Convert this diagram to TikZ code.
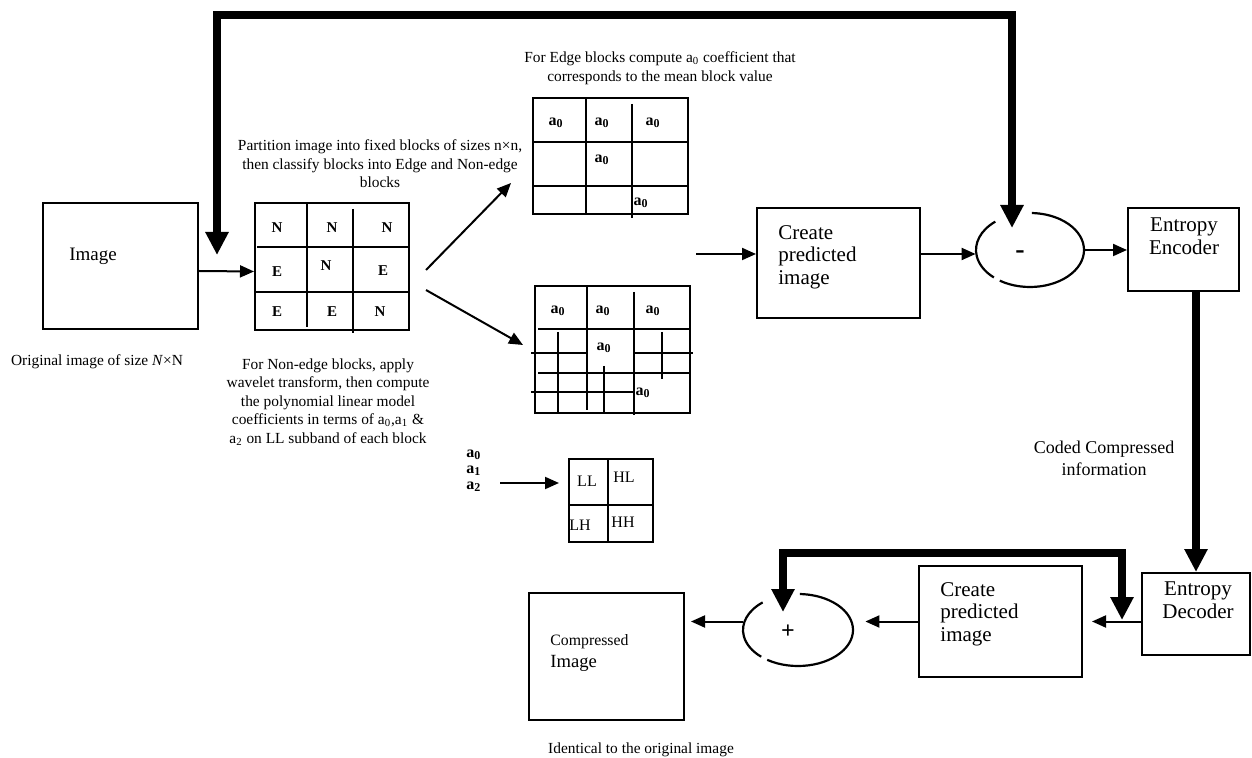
\documentclass[tikz,border=0pt]{standalone}
\usepackage{fontspec}
\setmainfont{Liberation Serif}
\usetikzlibrary{arrows.meta,calc,shapes.geometric}
\newcommand{\mysmall}{\fontsize{7.7}{9.25}\selectfont}
\newcommand{\mybig}{\fontsize{10.5}{11.25}\selectfont}
\newcommand{\mymid}{\fontsize{9}{11}\selectfont}
\begin{document}
\begin{tikzpicture}[x=0.5pt,y=-0.5pt,
  box/.style={draw,line width=1pt,inner sep=0pt},
  arr/.style={line width=1pt,-{Triangle[length=7pt,width=6pt]}},
  thk/.style={line width=3.6pt,line join=miter,{Triangle[length=11.5pt,width=11pt]}-{Triangle[length=11.5pt,width=11pt]}},
  gl/.style={line width=1pt},
  ell/.style={line width=1.1pt},
  captxt/.style={font=\mysmall,align=center,inner sep=0pt},
  lbl/.style={font=\fontsize{7.5}{9}\selectfont\bfseries,inner sep=0pt},
  bigtxt/.style={font=\mybig,inner sep=0pt}]
\useasboundingbox (0,0) rectangle (1252,758);

% ---------- boxes ----------
\node[box,minimum width=77.5pt,minimum height=63pt] (img) at (120.5,266) {};
\node[bigtxt,font=\fontsize{9.5}{11}\selectfont] (imgt) at (93,256) {Image};
\node[captxt] (orig) at (97,362) {Original image of size \textit{N}×N};

\node[box,minimum width=77pt,minimum height=63.5pt] (grid1) at (332,266.5) {};
\node[box,minimum width=77.5pt,minimum height=58pt] (grid2) at (610.5,156) {};
\node[box,minimum width=77.5pt,minimum height=63.5pt] (grid3) at (612.5,349.5) {};
\node[box,minimum width=81.5pt,minimum height=55pt] (pred1) at (838.5,263) {};
\node[box,minimum width=55.5pt,minimum height=41.5pt] (enc) at (1183.5,249.5) {};
\node[box,minimum width=54pt,minimum height=41pt] (dec) at (1196,614) {};
\node[box,minimum width=81.5pt,minimum height=55.5pt] (pred2) at (1000.5,621.5) {};
\node[box,minimum width=77.5pt,minimum height=63.5pt] (comp) at (606.5,656.5) {};
\node[box,minimum width=42pt,minimum height=41.5pt] (llg) at (611,500.5) {};

% ellipses (invisible nodes + gapped arcs)
\node[ellipse,minimum width=54pt,minimum height=37pt,inner sep=0pt] (sub) at (1030,250) {};
\node[ellipse,minimum width=55pt,minimum height=36pt,inner sep=0pt] (add) at (798,630) {};
\draw[ell] ($(sub)+(130:27pt and 18.5pt)$) arc[start angle=130,end angle=228,x radius=27pt,y radius=18.5pt];
\draw[ell] ($(sub)+(236:27pt and 18.5pt)$) arc[start angle=236,end angle=448,x radius=27pt,y radius=18.5pt];
\draw[ell] ($(add)+(130:27.5pt and 18pt)$) arc[start angle=130,end angle=228,x radius=27.5pt,y radius=18pt];
\draw[ell] ($(add)+(236:27.5pt and 18pt)$) arc[start angle=236,end angle=448,x radius=27.5pt,y radius=18pt];
\node[inner sep=0pt,font=\fontsize{14}{14}\selectfont\bfseries] (minus) at (1020,255) {-};
\node[inner sep=0pt,font=\fontsize{12}{12}\selectfont\bfseries] (plus) at (788,632) {+};

% ---------- grid 1 ----------
\draw[gl] (307,203) -- (307,327);
\draw[gl] (353,209) -- (353,333);
\draw[gl] (257,247) -- (409,247);
\draw[gl] (255,292) -- (409,292);
\node[lbl] (n1) at (277,228) {N};
\node[lbl] (n2) at (332,228) {N};
\node[lbl] (n3) at (387,228) {N};
\node[lbl] (e1) at (277,272) {E};
\node[lbl] (n4) at (326,266) {N};
\node[lbl] (e2) at (383,271) {E};
\node[lbl] (e3) at (277,312) {E};
\node[lbl] (e4) at (332,312) {E};
\node[lbl] (n5) at (380,312) {N};
\node[captxt] (part) at (380,164) {Partition image into fixed blocks of sizes n×n,\\then classify blocks into Edge and Non-edge\\blocks};

% ---------- grid 2 (edge) ----------
\draw[gl] (586,98) -- (586,214);
\draw[gl] (632,104) -- (632,218);
\draw[gl] (533,142) -- (688,142);
\draw[gl] (533,186) -- (688,186);
\node[lbl,font=\fontsize{8}{9}\selectfont\bfseries] (g2a) at (556,123) {a\textsubscript{0}};
\node[lbl,font=\fontsize{8}{9}\selectfont\bfseries] (g2b) at (602,123) {a\textsubscript{0}};
\node[lbl,font=\fontsize{8}{9}\selectfont\bfseries] (g2c) at (653,123) {a\textsubscript{0}};
\node[lbl,font=\fontsize{8}{9}\selectfont\bfseries] (g2d) at (602,160) {a\textsubscript{0}};
\node[lbl,font=\fontsize{8}{9}\selectfont\bfseries] (g2e) at (641,203) {a\textsubscript{0}};
\node[captxt] (edgecap) at (660,68) {For Edge blocks compute a\textsubscript{0} coefficient that\\corresponds to the mean block value};

% ---------- grid 3 (non-edge) ----------
\draw[gl] (587,286) -- (587,410);
\draw[gl] (634,292) -- (634,415);
\draw[gl] (538,329) -- (690,329);
\draw[gl] (538,373) -- (690,373);
\draw[gl] (531,353) -- (587,353);
\draw[gl] (635,353) -- (693,353);
\draw[gl] (531,392) -- (634,392);
\draw[gl] (558,332) -- (558,413);
\draw[gl] (604,366) -- (604,413);
\draw[gl] (662,332) -- (662,379);
\node[lbl,font=\fontsize{8}{9}\selectfont\bfseries] (g3a) at (558,311) {a\textsubscript{0}};
\node[lbl,font=\fontsize{8}{9}\selectfont\bfseries] (g3b) at (603,311) {a\textsubscript{0}};
\node[lbl,font=\fontsize{8}{9}\selectfont\bfseries] (g3c) at (653,311) {a\textsubscript{0}};
\node[lbl,font=\fontsize{8}{9}\selectfont\bfseries] (g3d) at (604,348) {a\textsubscript{0}};
\node[lbl,font=\fontsize{8}{9}\selectfont\bfseries] (g3e) at (643,393) {a\textsubscript{0}};
\node[captxt] (noncap) at (328,402) {For Non-edge blocks, apply\\wavelet transform, then compute\\the polynomial linear model\\coefficients in terms of a\textsubscript{0},a\textsubscript{1} \&\\a\textsubscript{2} on LL subband of each block};

% ---------- LL grid ----------
\draw[gl] (608,459) -- (608,542);
\draw[gl] (569,505) -- (653,505);
\node[inner sep=0pt,font=\fontsize{8}{9}\selectfont] (ll) at (587,481) {LL};
\node[inner sep=0pt,font=\fontsize{8}{9}\selectfont] (hl) at (624,477) {HL};
\node[inner sep=0pt,font=\fontsize{8}{9}\selectfont] (lh) at (580,525) {LH};
\node[inner sep=0pt,font=\fontsize{8}{9}\selectfont] (hh) at (623,522) {HH};
\node[lbl,font=\fontsize{8}{9}\selectfont\bfseries,anchor=west] (a0) at (466,455) {a\textsubscript{0}};
\node[lbl,font=\fontsize{8}{9}\selectfont\bfseries,anchor=west] (a1) at (466,471) {a\textsubscript{1}};
\node[lbl,font=\fontsize{8}{9}\selectfont\bfseries,anchor=west] (a2) at (466,487) {a\textsubscript{2}};

% ---------- texts in boxes ----------
\node[bigtxt,align=left,anchor=west] (p1t) at (778,257) {Create\\predicted\\image};
\node[bigtxt,align=center] (enct) at (1184,236) {Entropy\\Encoder};
\node[bigtxt,align=center] (dect) at (1198,600) {Entropy\\Decoder};
\node[bigtxt,align=left,anchor=west] (p2t) at (940,614) {Create\\predicted\\image};
\node[inner sep=0pt,anchor=west,font=\fontsize{7.9}{9}\selectfont] (compt1) at (550,642) {Compressed};
\node[inner sep=0pt,anchor=west,font=\fontsize{9.3}{11}\selectfont] (compt2) at (550,663) {Image};
\node[captxt,font=\mymid] (coded) at (1104,458) {Coded Compressed\\information};
\node[captxt] (ident) at (641,750) {Identical to the original image};

% ---------- connectors ----------
\draw[arr] ([yshift=-2.5pt]img.east) -- ([yshift=-2.5pt]grid1.west);
\draw[arr] ([xshift=8pt,yshift=-1.75pt]grid1.east) -- ([xshift=-10.5pt,yshift=16pt]grid2.south west);
\draw[arr] ([xshift=8pt,yshift=-11.75pt]grid1.east) -- ([xshift=-5.5pt,yshift=2.25pt]grid3.west);
\coordinate (p1in) at (696,254);
\draw[arr] (p1in) -- (p1in -| pred1.west);
\coordinate (p1out) at ([yshift=4.5pt]pred1.east);
\draw[arr] (p1out) -- (p1out -| sub.west);
\draw[arr] (sub.east) -- (sub.east -| enc.west);
\draw[line width=3.6pt,-{Triangle[length=11.5pt,width=11pt]}] (dec.north |- enc.south) -- (dec.north);
\draw[arr,shorten >=4.5pt] (dec.west |- pred2.east) -- (pred2.east);
\draw[arr,shorten >=6pt] (pred2.west) -- (pred2.west -| add.east);
\draw[arr,shorten >=3pt] (add.west |- pred2.west) -- (comp.east |- pred2.west);
\coordinate (llin) at (500,483);
\draw[arr,shorten >=4.5pt] (llin) -- (llin -| llg.west);

% thick feedback loops
\coordinate (topL) at (217,255);
\coordinate (topR) at (1012,228);
\draw[thk] (topL) -- (217,15) -- (1012,15) -- (topR);
\coordinate (fbR) at (1122,620);
\coordinate (fbL) at (783,612);
\draw[thk] (fbR) -- (1122,553) -- (783,553) -- (fbL);
\end{tikzpicture}
\end{document}
